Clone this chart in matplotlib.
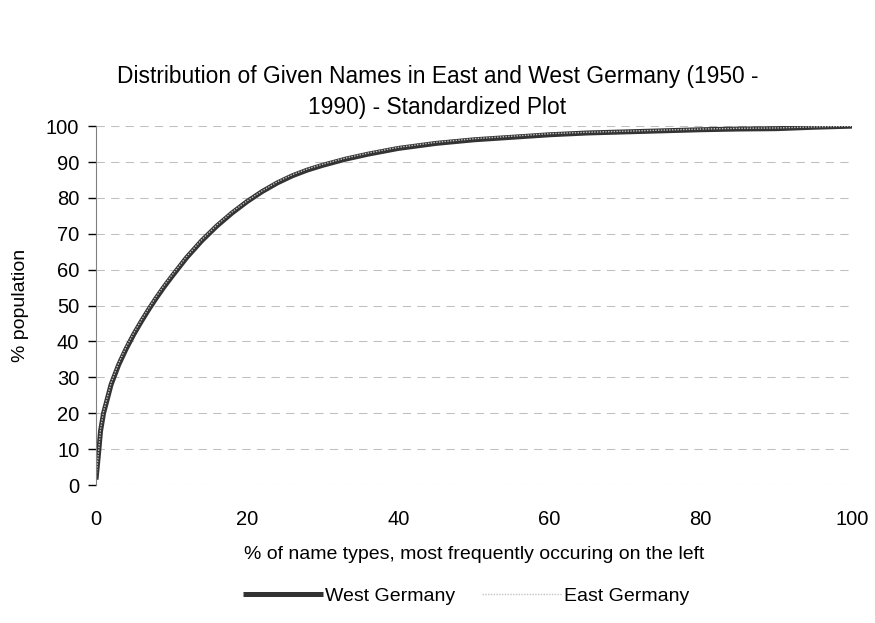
import matplotlib
matplotlib.use('Agg')
import matplotlib.pyplot as plt

plt.rcParams['font.family'] = ['Liberation Sans', 'DejaVu Sans']

# % of name types (x) and cumulative % population (y)
x = [0, 0.3, 0.6, 1, 2, 3, 4, 5, 6, 7, 8, 9, 10, 12, 14, 16, 18, 20, 22, 24,
     26, 28, 30, 33, 36, 40, 45, 50, 55, 60, 65, 70, 75, 80, 85, 90, 95, 100]
### West Germany
west = [1.5, 8, 15, 20, 28, 33.5, 38, 42, 45.6, 49, 52.2, 55.2, 58, 63.4, 68.1, 72.2, 75.8, 79, 81.8, 84.2,
        86.2, 87.8, 89.1, 90.8, 92.2, 93.8, 95.2, 96.2, 96.9, 97.6, 98.1, 98.4, 98.7, 99.0, 99.2, 99.3, 99.7, 100]
### East Germany
east = [1.8, 8.5, 15.5, 20.5, 28.5, 34, 38.5, 42.4, 46, 49.4, 52.6, 55.6, 58.4, 63.7, 68.4, 72.5, 76.1, 79.2, 82, 84.5,
        86.5, 88.1, 89.4, 91.1, 92.5, 94.1, 95.5, 96.5, 97.2, 97.9, 98.3, 98.6, 98.9, 99.2, 99.4, 99.5, 99.8, 100]

fig = plt.figure(figsize=(8.75, 6.23), dpi=100)
ax = fig.add_axes([0.1097, 0.2215, 0.864, 0.576])

ax.plot(x, west, color='#333333', lw=3.6, solid_capstyle='butt', label='West Germany')
ax.plot(x, east, color='#c4c4c4', lw=1, linestyle=(0, (1, 1)), label='East Germany')

ax.set_xlim(0, 100)
ax.set_ylim(0, 100)
ax.set_xticks([0, 20, 40, 60, 80, 100])
ax.set_yticks(range(0, 101, 10))
ax.yaxis.grid(True, color='#c0c0c0', lw=0.75, linestyle=(0, (8, 6)))
ax.set_axisbelow(True)

for s in ['top', 'right', 'bottom']:
    ax.spines[s].set_visible(False)
ax.spines['left'].set_color('#808080')
ax.tick_params(axis='y', direction='out', length=6, width=1, color='black', pad=6, labelsize=14.5)
ax.tick_params(axis='x', length=0, pad=18, labelsize=14.5)

ax.set_xlabel('% of name types, most frequently occuring on the left', fontsize=14, labelpad=12)
ax.set_ylabel('% population', fontsize=14, labelpad=12)

fig.text(0.5, 0.853, 'Distribution of Given Names in East and West Germany (1950 -\n1990) - Standardized Plot',
         ha='center', va='center', fontsize=16.4, linespacing=1.45)

fig.legend(loc='center', bbox_to_anchor=(0.533, 0.043), ncol=2, frameon=False, fontsize=14,
           handlelength=4.1, handletextpad=0.1, columnspacing=1.4)

fig.savefig('out.png', dpi=100)
